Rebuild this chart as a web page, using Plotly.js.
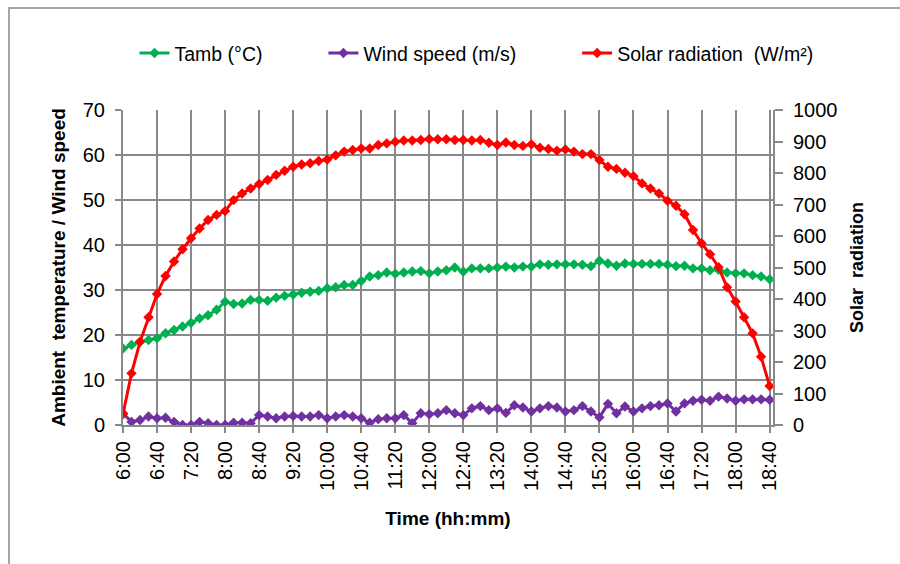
<!DOCTYPE html>
<html>
<head>
<meta charset="utf-8">
<script src="https://cdn.plot.ly/plotly-3.0.1.min.js"></script>
<style>
  html, body { margin: 0; padding: 0; background: #fff; }
  #wrap { position: relative; width: 900px; height: 564px; overflow: hidden; }
  #chart { position: absolute; left: 0; top: 0; width: 900px; height: 564px; }
  #frame { position: absolute; left: 8px; top: 7px; width: 900px; height: 600px;
           border-left: 2px solid #a6a6a6; border-top: 2px solid #a6a6a6; pointer-events: none; }
</style>
</head>
<body>
<div id="wrap">
  <div id="chart"></div>
  <div id="frame"></div>
</div>
<script>
// Time of day (10-minute readings)
const times = [
  "06:00","06:10","06:20","06:30","06:40","06:50","07:00","07:10","07:20","07:30",
  "07:40","07:50","08:00","08:10","08:20","08:30","08:40","08:50","09:00","09:10",
  "09:20","09:30","09:40","09:50","10:00","10:10","10:20","10:30","10:40","10:50",
  "11:00","11:10","11:20","11:30","11:40","11:50","12:00","12:10","12:20","12:30",
  "12:40","12:50","13:00","13:10","13:20","13:30","13:40","13:50","14:00","14:10",
  "14:20","14:30","14:40","14:50","15:00","15:10","15:20","15:30","15:40","15:50",
  "16:00","16:10","16:20","16:30","16:40","16:50","17:00","17:10","17:20","17:30",
  "17:40","17:50","18:00","18:10","18:20","18:30","18:40"
];

// Ambient temperature (°C)
const tamb = [
  17.0,17.8,18.5,18.9,19.3,20.4,21.1,21.9,22.7,23.7,
  24.4,25.6,27.4,26.9,27.0,27.8,27.8,27.6,28.3,28.7,
  29.0,29.4,29.6,29.8,30.4,30.6,31.1,31.1,32.0,33.0,
  33.3,33.9,33.6,33.9,34.1,34.2,33.7,34.1,34.4,35.0,
  34.1,34.8,34.8,34.8,35.0,35.2,35.0,35.2,35.2,35.7,
  35.6,35.7,35.7,35.7,35.6,35.3,36.5,35.9,35.4,35.9,
  35.8,35.8,35.8,35.8,35.6,35.3,35.4,34.8,34.8,34.4,
  34.5,33.9,33.7,33.7,33.3,33.0,32.4
];

// Wind speed (m/s)
const wind = [
  2.6,0.7,1.1,1.9,1.5,1.6,0.7,0.0,0.0,0.7,
  0.4,0.0,0.0,0.5,0.5,0.4,2.2,1.9,1.5,1.9,
  2.0,1.9,1.9,2.2,1.5,1.9,2.2,1.9,1.5,0.5,
  1.3,1.5,1.5,2.2,0.4,2.6,2.4,2.6,3.3,2.6,
  2.2,3.7,4.2,3.3,3.7,2.7,4.4,3.9,3.0,3.7,
  4.2,3.9,3.0,3.3,4.2,3.0,1.7,4.7,2.6,4.1,
  3.0,3.7,4.2,4.4,4.8,3.0,4.8,5.4,5.6,5.4,
  6.3,5.9,5.4,5.7,5.7,5.7,5.6
];

// Solar radiation (W/m²)
const solar = [
  35,164,264,342,416,473,519,558,593,624,
  651,667,679,714,735,751,765,778,794,807,
  820,827,831,838,843,856,868,873,878,878,
  889,894,899,903,903,905,908,907,907,905,
  905,903,905,896,889,897,889,886,891,880,
  876,871,875,868,860,860,841,820,813,801,
  790,767,751,735,712,696,669,619,577,542,
  501,437,392,342,291,217,124
];

// Legend labels
const seriesNames = ["Tamb (°C)", "Wind speed (m/s)", "Solar radiation  (W/m²)"];

const day = "2000-01-01 ";
const x = times.map(t => day + t);

const FONT = "Liberation Sans, Arial, sans-serif";
const GRID = "#898989";
const PAD = "&nbsp;".repeat(7);

const traces = [
  {
    name: seriesNames[0] + PAD, x: x, y: tamb, type: "scatter", mode: "lines+markers",
    line: {color: "#00B050", width: 3}, marker: {symbol: "diamond", size: 8, color: "#00B050"}
  },
  {
    name: seriesNames[1] + PAD, x: x, y: wind, type: "scatter", mode: "lines+markers",
    line: {color: "#7030A0", width: 3}, marker: {symbol: "diamond", size: 8, color: "#7030A0"}
  },
  {
    name: seriesNames[2], x: x, y: solar, yaxis: "y2", type: "scatter", mode: "lines+markers",
    line: {color: "#FF0000", width: 3}, marker: {symbol: "diamond", size: 8, color: "#FF0000"}
  }
];

const layout = {
  width: 900, height: 564,
  margin: {l: 123, r: 127, t: 110, b: 139, pad: 0},
  paper_bgcolor: "#fff", plot_bgcolor: "#fff",
  font: {family: FONT, size: 18, color: "#000"},
  showlegend: true,
  legend: {
    orientation: "h", x: -0.01, xanchor: "left", y: 1.18, yanchor: "middle",
    indentation: 18,
    font: {family: FONT, size: 19.5, color: "#000"}, tracegroupgap: 0
  },
  xaxis: {
    type: "date",
    range: [day + "06:00", day + "18:44"],
    tick0: day + "06:00", dtick: 2400000,
    tickformat: "%-H:%M",
    tickangle: -90,
    tickfont: {family: FONT, size: 20, color: "#000"},
    ticks: "outside", ticklen: 6, tickcolor: GRID, tickwidth: 2,
    showgrid: true, gridcolor: GRID, gridwidth: 2,
    showline: true, linecolor: GRID, linewidth: 2,
    zeroline: false,
    title: {text: "<b>Time (hh:mm)</b>", font: {family: FONT, size: 19, color: "#000"}, standoff: 22}
  },
  yaxis: {
    range: [0, 70], dtick: 10,
    tickfont: {family: FONT, size: 20, color: "#000"},
    ticks: "outside", ticklen: 6, tickcolor: GRID, tickwidth: 2,
    ticklabelstandoff: 6,
    showgrid: true, gridcolor: GRID, gridwidth: 2,
    showline: true, linecolor: GRID, linewidth: 2, mirror: false,
    zeroline: false,
    title: {text: "<b>Ambient  temperature / Wind speed</b>", font: {family: FONT, size: 19, color: "#000"}, standoff: 12}
  },
  yaxis2: {
    overlaying: "y", side: "right",
    range: [0, 1000], dtick: 100,
    tickfont: {family: FONT, size: 20, color: "#000"},
    ticks: "outside", ticklen: 8, tickcolor: GRID, tickwidth: 2,
    ticklabelstandoff: 6,
    showgrid: false, zeroline: false,
    showline: true, linecolor: GRID, linewidth: 2,
    title: {text: "<b>Solar  radiation</b>", font: {family: FONT, size: 18, color: "#000"}, standoff: 14}
  }
};

Plotly.newPlot("chart", traces, layout, {displayModeBar: false, staticPlot: true});
</script>
</body>
</html>
